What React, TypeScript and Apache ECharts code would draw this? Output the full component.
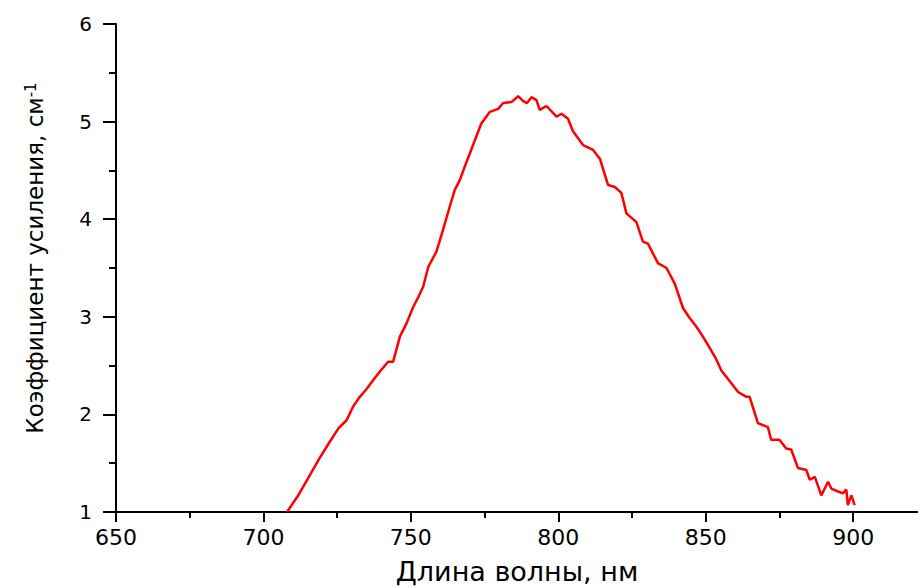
import React, { useEffect, useRef } from "react";
import * as echarts from "echarts";

const wavelength = [
  708.0, 712.0, 715.8, 719.0, 722.5, 725.5, 728.2, 730.4, 732.7, 735.0, 737.2, 739.5,
  742.3, 744.0, 746.3, 748.5, 750.8, 752.5, 754.2, 755.9, 758.7, 760.9, 763.2, 764.9,
  766.6, 768.3, 771.1, 773.9, 776.8, 779.6, 781.3, 784.1, 786.4, 788.1, 789.4, 790.9,
  792.6, 793.7, 796.0, 799.4, 801.1, 803.3, 805.0, 808.4, 811.8, 814.1, 816.9, 819.2,
  821.4, 823.1, 826.5, 828.7, 830.4, 833.8, 836.7, 839.5, 842.3, 844.5, 846.8, 849.0,
  851.4, 853.5, 855.3, 858.7, 861.0, 863.8, 864.9, 867.7, 871.1, 872.2, 875.0, 877.3,
  879.0, 881.3, 884.1, 885.3, 887.0, 889.2, 891.5, 892.6, 894.9, 896.5, 897.7, 898.2,
  899.4, 900.5,
];
const gain = [
  1.0, 1.18, 1.38, 1.55, 1.72, 1.86, 1.94, 2.08, 2.18, 2.26, 2.35, 2.44,
  2.54, 2.54, 2.8, 2.93, 3.1, 3.2, 3.31, 3.51, 3.67, 3.89, 4.13, 4.3,
  4.4, 4.54, 4.76, 4.98, 5.1, 5.13, 5.19, 5.2, 5.26, 5.21, 5.19, 5.25,
  5.22, 5.12, 5.16, 5.05, 5.08, 5.03, 4.9, 4.76, 4.71, 4.62, 4.35, 4.33,
  4.27, 4.06, 3.97, 3.77, 3.75, 3.55, 3.5, 3.34, 3.09, 2.99, 2.9, 2.8,
  2.68, 2.57, 2.45, 2.32, 2.23, 2.18, 2.18, 1.91, 1.87, 1.74, 1.74, 1.65,
  1.64, 1.45, 1.43, 1.33, 1.36, 1.17, 1.31, 1.24, 1.21, 1.19, 1.23, 1.07,
  1.17, 1.07,
];
const xMajorTicks = [650, 700, 750, 800, 850, 900];
const xMinorTicks = [675, 725, 775, 825, 875];

export default function App() {
  const ref = useRef<HTMLDivElement>(null);
  useEffect(() => {
    if (!ref.current) return;
    const chart = echarts.init(ref.current, undefined, { renderer: "svg" });
    const data = wavelength.map((w, i) => [w, gain[i]]);
    const font = "DejaVu Sans";
    chart.setOption({
      animation: false,
      backgroundColor: "#ffffff",
      grid: { left: 116, top: 24, right: 0, bottom: 75, containLabel: false, outerBoundsMode: "none" },
      xAxis: [
        {
          type: "value",
          min: 650,
          max: 922,
          interval: 50,
          name: "Длина волны, нм",
          nameLocation: "middle",
          nameGap: 46,
          nameTextStyle: { fontFamily: font, fontSize: 27, color: "#000" },
          axisLine: { show: true, lineStyle: { color: "#000", width: 2 } },
          axisTick: { show: true, length: 10, lineStyle: { color: "#000", width: 2 }, customValues: xMajorTicks },
          axisLabel: {
            margin: 14,
            fontFamily: font,
            fontSize: 22,
            color: "#000",
            customValues: xMajorTicks,
          },
          splitLine: { show: false },
        },
        {
          type: "value",
          position: "bottom",
          min: 650,
          max: 922,
          interval: 50,
          axisLine: { show: false },
          axisTick: { show: true, length: 6, lineStyle: { color: "#000", width: 2 }, customValues: xMinorTicks },
          axisLabel: { show: false },
          splitLine: { show: false },
        },
      ],
      yAxis: {
        type: "value",
        min: 1,
        max: 6,
        interval: 1,
        name: "Коэффициент усиления, см{sup|-1}",
        nameLocation: "middle",
        nameGap: 70,
        nameTextStyle: {
          fontFamily: font,
          fontSize: 23,
          color: "#000",
          padding: [0, 0, 0, 20],
          rich: {
            sup: { fontFamily: font, fontSize: 15, color: "#000", verticalAlign: "top" },
          },
        },
        axisLine: { show: true, lineStyle: { color: "#000", width: 2 } },
        axisTick: { show: true, length: 13, lineStyle: { color: "#000", width: 2 } },
        minorTick: { show: true, splitNumber: 2, length: 7, lineStyle: { color: "#000", width: 2 } },
        axisLabel: { margin: 24, fontFamily: font, fontSize: 20, color: "#000" },
        splitLine: { show: false },
        minorSplitLine: { show: false },
      },
      series: [
        {
          type: "line",
          xAxisIndex: 0,
          data,
          showSymbol: false,
          symbol: "none",
          lineStyle: { color: "#ff0000", width: 2.5 },
        },
      ],
    });
    return () => chart.dispose();
  }, []);
  return (
    <div
      ref={ref}
      style={{ position: "absolute", left: 0, top: 0, width: 918, height: 587 }}
    />
  );
}
